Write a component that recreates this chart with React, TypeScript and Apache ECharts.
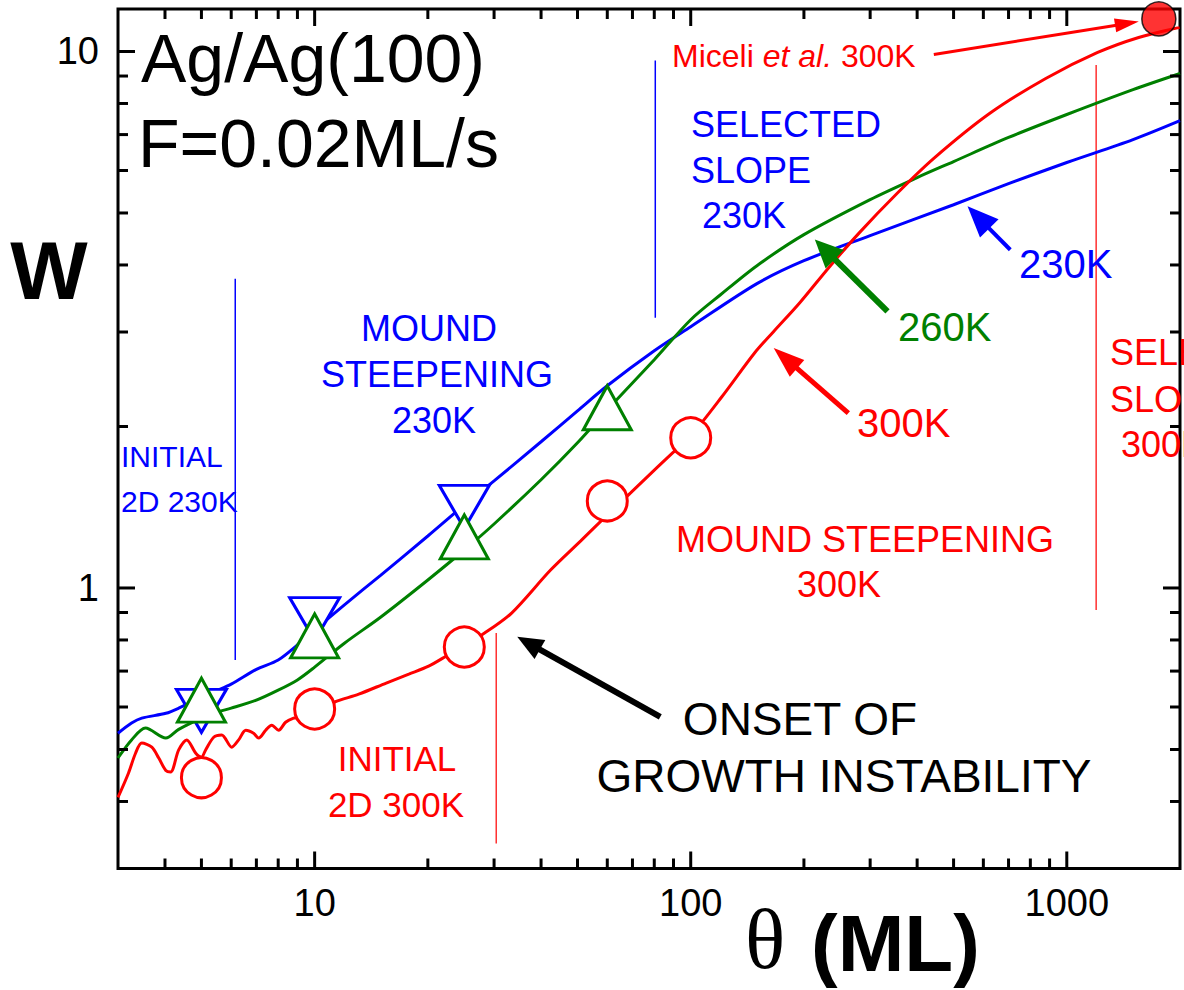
import { useEffect, useRef } from "react";
import * as echarts from "echarts";

// ---------------- data ----------------
// 230K simulation (blue)
const blueX = [3, 3.26, 3.47, 4.02, 4.35, 5, 5.5, 6, 7, 8, 9, 10, 12, 15, 20, 25, 30, 40, 50, 60, 80, 100, 150, 200, 300, 500, 700, 1000, 1500, 2000];
const blueY = [0.536, 0.56, 0.572, 0.584, 0.597, 0.626, 0.644, 0.662, 0.705, 0.734, 0.783, 0.835, 0.93, 1.057, 1.25, 1.428, 1.583, 1.873, 2.139, 2.382, 2.768, 3.069, 3.692, 4.074, 4.537, 5.18, 5.67, 6.21, 6.85, 7.43];
// 260K simulation (green)
const greenX = [3, 3.26, 3.55, 4.02, 4.35, 5, 5.5, 6, 7, 8, 9, 10, 12, 15, 20, 25, 30, 40, 50, 60, 80, 100, 120, 150, 200, 300, 400, 500, 700, 1000, 1500, 2000];
const greenY = [0.482, 0.521, 0.548, 0.525, 0.545, 0.572, 0.587, 0.597, 0.618, 0.645, 0.674, 0.712, 0.789, 0.883, 1.035, 1.177, 1.316, 1.591, 1.865, 2.148, 2.663, 3.162, 3.52, 3.988, 4.557, 5.296, 5.82, 6.234, 6.914, 7.63, 8.49, 9.1];
// 300K simulation (red)
const redX = [3.0, 3.2, 3.34, 3.47, 3.69, 3.85, 4.02, 4.14, 4.35, 4.57, 4.83, 5.0, 5.13, 5.39, 5.66, 6.02, 6.28, 6.56, 6.88, 7.1, 7.41, 7.69, 8.02, 8.37, 8.79, 9.06, 10, 11.3, 13.1, 15.5, 17.8, 20.1, 22.4, 25, 28.3, 33.4, 42.4, 51, 60, 69.2, 81.7, 89.5, 100, 121, 148, 166, 195, 234, 281, 353, 443, 623, 879, 1208, 1553, 1995];
const redY = [0.407, 0.452, 0.492, 0.514, 0.505, 0.482, 0.457, 0.454, 0.499, 0.521, 0.492, 0.484, 0.499, 0.527, 0.532, 0.505, 0.521, 0.543, 0.536, 0.525, 0.543, 0.555, 0.543, 0.562, 0.572, 0.574, 0.587, 0.613, 0.634, 0.665, 0.691, 0.715, 0.747, 0.783, 0.824, 0.898, 1.08, 1.224, 1.368, 1.504, 1.682, 1.786, 1.92, 2.272, 2.744, 3.004, 3.402, 3.971, 4.596, 5.43, 6.32, 7.66, 8.905, 9.957, 10.62, 11.09];

// experimental points
const blueMarkX = [5, 10, 25];
const blueMarkY = [0.59, 0.875, 1.416];
const greenMarkX = [5, 10, 25, 60];
const greenMarkY = [0.618, 0.814, 1.245, 2.167];
const redMarkX = [5, 10, 25, 60, 100];
const redMarkY = [0.443, 0.595, 0.776, 1.453, 1.905];
const miceliX = [1757];
const miceliY = [11.5];

// regime boundary lines
const blueLineX = [6.15, 80.5];
const blueLineLo = [0.734, 3.19];
const blueLineHi = [3.77, 9.62];
const redLineX = [30.4, 1197];
const redLineLo = [0.334, 0.91];
const redLineHi = [0.824, 9.44];

// annotation arrows (tail -> tip), in data units
const arrowTailX = [443, 707.5, 333.6, 262.5, 83.0];
const arrowTailY = [9.87, 4.27, 3.278, 2.118, 0.575];
const arrowTipX = [1554, 544.6, 213.8, 166.2, 34.57];
const arrowTipY = [11.37, 5.145, 4.46, 2.801, 0.811];

// axes
const xMajorTicks = [10, 100, 1000];
const xMinorTicks = [4, 5, 6, 7, 8, 9, 20, 30, 40, 50, 60, 70, 80, 90, 200, 300, 400, 500, 600, 700, 800, 900];
const yMajorTicks = [1, 10];
const yMinorTicks = [0.4, 0.5, 0.6, 0.7, 0.8, 0.9, 2, 3, 4, 5, 6, 7, 8, 9];
const xTickLabels = ["10", "100", "1000"];
const yTickLabels = ["1", "10"];

// ---------------- styles ----------------
const BLUE = "#0000ff";
const GREEN = "#008000";
const RED = "#ff0000";
const SANS = "'Liberation Sans', Arial, Helvetica, sans-serif";
const SERIF = "'Liberation Serif', 'Times New Roman', serif";
const arrowColor = [RED, BLUE, GREEN, RED, "#000000"];
const arrowWidth = [3, 4, 6, 5, 6];
const arrowHeadLen = [24, 31, 28, 31, 26];
const arrowHeadHalf = [7, 13, 13, 11, 11];

const pairs = (xs: number[], ys: number[]) => xs.map((x, i) => [x, ys[i]]);

function txt(
  text: string,
  x: number,
  baseline: number,
  size: number,
  color: string,
  align: string = "left",
  weight: string = "normal",
  family: string = SANS,
  k: number = 0.3465
) {
  return {
    type: "text",
    x,
    y: baseline - k * size,
    silent: true,
    z: 50,
    style: {
      text,
      fill: color,
      fontSize: size,
      fontWeight: weight,
      fontFamily: family,
      lineHeight: size,
      align,
      verticalAlign: "middle",
      textAlign: align,
      textVerticalAlign: "middle",
    },
  };
}

function tickSeries(values: number[], dir: "x" | "y", len: number) {
  return {
    type: "custom",
    coordinateSystem: "cartesian2d",
    silent: true,
    z: 20,
    clip: false,
    encode: { x: 0, y: 1 },
    data: values.map((v) => (dir === "x" ? [v, 1] : [10, v])),
    renderItem: (params: any, api: any) => {
      const cs = params.coordSys;
      const p = api.coord([api.value(0), api.value(1)]);
      const st = { stroke: "#000", lineWidth: 3 };
      if (dir === "x") {
        const b = cs.y + cs.height;
        const t = cs.y;
        return {
          type: "group",
          children: [
            { type: "line", shape: { x1: p[0], y1: b, x2: p[0], y2: b - len }, style: st },
            { type: "line", shape: { x1: p[0], y1: t, x2: p[0], y2: t + len }, style: st },
          ],
        };
      }
      const l = cs.x;
      const r = cs.x + cs.width;
      return {
        type: "group",
        children: [
          { type: "line", shape: { x1: l, y1: p[1], x2: l + len, y2: p[1] }, style: st },
          { type: "line", shape: { x1: r, y1: p[1], x2: r - len, y2: p[1] }, style: st },
        ],
      };
    },
  };
}

function vLineSeries(xs: number[], lo: number[], hi: number[], color: string) {
  return {
    type: "custom",
    coordinateSystem: "cartesian2d",
    silent: true,
    z: 1,
    encode: { x: 0, y: [1, 2] },
    data: xs.map((x, i) => [x, lo[i], hi[i]]),
    renderItem: (_p: any, api: any) => {
      const a = api.coord([api.value(0), api.value(1)]);
      const b = api.coord([api.value(0), api.value(2)]);
      return {
        type: "line",
        shape: { x1: a[0], y1: a[1], x2: b[0], y2: b[1] },
        style: { stroke: color, lineWidth: 1.5 },
      };
    },
  };
}

export default function App() {
  const ref = useRef<HTMLDivElement>(null);

  useEffect(() => {
    document.body.style.margin = "0";
    if (!ref.current) return;
    const chart = echarts.init(ref.current, undefined, { renderer: "svg" });

    const markerStyle = (c: string) => ({ color: "#ffffff", borderColor: c, borderWidth: 3, opacity: 1 });

    const option: any = {
      animation: false,
      backgroundColor: "#ffffff",
      textStyle: { fontFamily: SANS },
      grid: {
        left: 118,
        right: 4,
        top: 9,
        bottom: 121.5,
        show: true,
        borderColor: "#000",
        borderWidth: 3,
        backgroundColor: "transparent",
      },
      xAxis: {
        type: "log",
        logBase: 10,
        min: 3,
        max: 2000,
        axisLine: { show: false },
        axisTick: { show: false },
        splitLine: { show: false },
        axisLabel: {
          showMinLabel: false,
          showMaxLabel: false,
          fontSize: 38,
          color: "#000",
          fontFamily: SANS,
          margin: 15,
          formatter: (v: number) => {
            const s = String(Math.round(v));
            return xTickLabels.includes(s) ? s : "";
          },
        },
      },
      yAxis: {
        type: "log",
        logBase: 10,
        min: 0.3,
        max: 12,
        axisLine: { show: false },
        axisTick: { show: false },
        splitLine: { show: false },
        axisLabel: {
          showMinLabel: false,
          showMaxLabel: false,
          fontSize: 38,
          color: "#000",
          fontFamily: SANS,
          margin: 19,
          formatter: (v: number) => {
            const s = String(Math.round(v));
            return yTickLabels.includes(s) ? s : "";
          },
        },
      },
      series: [
        vLineSeries(blueLineX, blueLineLo, blueLineHi, BLUE),
        vLineSeries(redLineX, redLineLo, redLineHi, "#ff3030"),
        {
          name: "230K",
          type: "line",
          data: pairs(blueX, blueY),
          showSymbol: false,
          smooth: 0.3,
          z: 3,
          lineStyle: { color: BLUE, width: 3 },
        },
        {
          name: "230K data",
          type: "scatter",
          data: pairs(blueMarkX, blueMarkY),
          symbol: "triangle",
          symbolRotate: 180,
          symbolSize: [50, 43],
          z: 4,
          itemStyle: markerStyle(BLUE),
        },
        {
          name: "260K",
          type: "line",
          data: pairs(greenX, greenY),
          showSymbol: false,
          smooth: 0.3,
          z: 5,
          lineStyle: { color: GREEN, width: 3 },
        },
        {
          name: "260K data",
          type: "scatter",
          data: pairs(greenMarkX, greenMarkY),
          symbol: "triangle",
          symbolSize: [48, 44],
          z: 6,
          itemStyle: markerStyle(GREEN),
        },
        {
          name: "300K",
          type: "line",
          data: pairs(redX, redY),
          showSymbol: false,
          smooth: 0.3,
          z: 7,
          lineStyle: { color: RED, width: 3 },
        },
        {
          name: "300K data",
          type: "scatter",
          data: pairs(redMarkX, redMarkY),
          symbol: "circle",
          symbolSize: 40,
          z: 8,
          itemStyle: markerStyle(RED),
        },
        {
          type: "custom",
          coordinateSystem: "cartesian2d",
          silent: true,
          z: 9,
          encode: { x: [0, 2], y: [1, 3] },
          data: arrowTailX.map((x, i) => [x, arrowTailY[i], arrowTipX[i], arrowTipY[i]]),
          renderItem: (params: any, api: any) => {
            const i = params.dataIndex;
            const t = api.coord([api.value(0), api.value(1)]);
            const h = api.coord([api.value(2), api.value(3)]);
            const dx = h[0] - t[0];
            const dy = h[1] - t[1];
            const L = Math.hypot(dx, dy) || 1;
            const ux = dx / L;
            const uy = dy / L;
            const hl = arrowHeadLen[i];
            const hw = arrowHeadHalf[i];
            const bx = h[0] - ux * hl;
            const by = h[1] - uy * hl;
            const px = -uy;
            const py = ux;
            const c = arrowColor[i];
            return {
              type: "group",
              children: [
                {
                  type: "line",
                  shape: { x1: t[0], y1: t[1], x2: bx + ux * 3, y2: by + uy * 3 },
                  style: { stroke: c, lineWidth: arrowWidth[i] },
                },
                {
                  type: "polygon",
                  shape: {
                    points: [
                      [h[0], h[1]],
                      [bx + px * hw, by + py * hw],
                      [bx - px * hw, by - py * hw],
                    ],
                  },
                  style: { fill: c },
                },
              ],
            };
          },
        },
        {
          name: "Miceli et al. 300K",
          type: "scatter",
          data: pairs(miceliX, miceliY),
          symbol: "circle",
          symbolSize: 34,
          clip: false,
          z: 10,
          itemStyle: { color: RED, borderColor: "#000", borderWidth: 1.5 },
        },
        tickSeries(xMajorTicks, "x", 17),
        tickSeries(xMinorTicks, "x", 10),
        tickSeries(yMajorTicks, "y", 17),
        tickSeries(yMinorTicks, "y", 10),
      ],
      graphic: [
        txt("Ag/Ag(100)", 141, 82, 68, "#000"),
        txt("F=0.02ML/s", 138, 167, 68, "#000"),
        txt("W", 49, 299, 82, "#000", "center", "bold"),
        txt("\u03b8", 745, 968, 84, "#000", "left", "normal", SERIF, 0.3375),
        txt("(ML)", 811, 971, 80, "#000", "left", "bold"),
        {
          type: "text",
          x: 672,
          y: 67 - 0.3465 * 32,
          silent: true,
          z: 50,
          style: {
            text: "{a|Miceli }{b|et al.}{a| 300K}",
            fill: RED,
            fontSize: 32,
            fontFamily: SANS,
            lineHeight: 32,
            align: "left",
            verticalAlign: "middle",
            textAlign: "left",
            textVerticalAlign: "middle",
            rich: {
              a: { fill: RED, color: RED, fontSize: 32, fontFamily: SANS, lineHeight: 32 },
              b: { fill: RED, color: RED, fontSize: 32, fontFamily: SANS, fontStyle: "italic", lineHeight: 32 },
            },
          },
        },
        txt("SELECTED", 691, 137, 36, BLUE),
        txt("SLOPE", 691, 183, 36, BLUE),
        txt("230K", 702, 228, 36, BLUE),
        txt("MOUND", 429, 341, 36, BLUE, "center"),
        txt("STEEPENING", 437, 387, 36, BLUE, "center"),
        txt("230K", 434, 433, 36, BLUE, "center"),
        txt("INITIAL", 121, 467, 30, BLUE),
        txt("2D 230K", 121, 512, 30, BLUE),
        txt("230K", 1019, 278, 40, BLUE),
        txt("260K", 898, 341, 40, GREEN),
        txt("300K", 857, 437, 40, RED),
        txt("MOUND STEEPENING", 865, 552, 36, RED, "center"),
        txt("300K", 839, 597, 36, RED, "center"),
        txt("SELECTED", 1110, 365, 36, RED),
        txt("SLOPE", 1110, 412, 36, RED),
        txt("300K", 1121, 457, 36, RED),
        txt("INITIAL", 397, 771, 35, RED, "center"),
        txt("2D 300K", 396, 817, 35, RED, "center"),
        txt("ONSET OF", 800, 735, 46, "#000", "center"),
        txt("GROWTH INSTABILITY", 844, 792, 46, "#000", "center"),
      ],
    };

    chart.setOption(option);
    return () => {
      chart.dispose();
    };
  }, []);

  return (
    <div
      ref={ref}
      style={{ width: 1184, height: 990, position: "absolute", left: 0, top: 0, overflow: "hidden", background: "#fff" }}
    />
  );
}
